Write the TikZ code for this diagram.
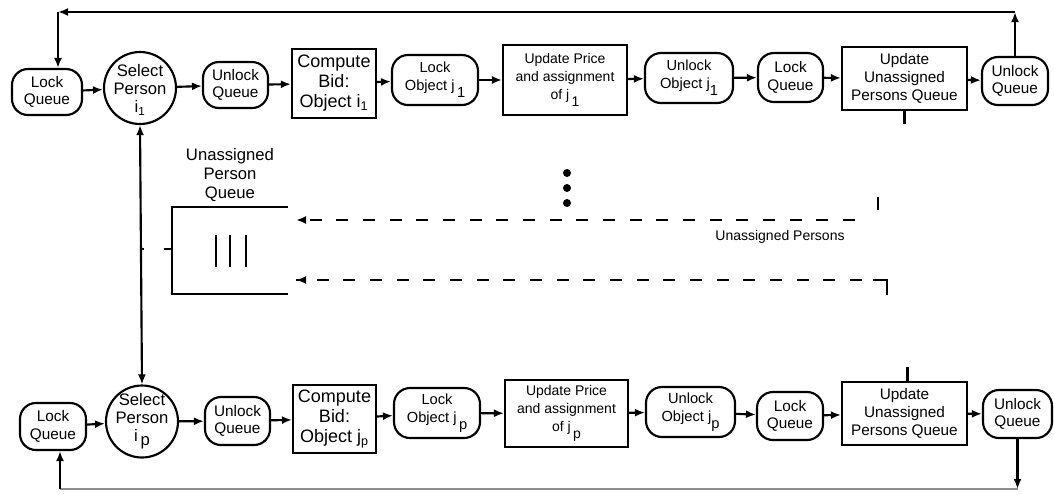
\documentclass[tikz,border=0pt]{standalone}
\usepackage{fontspec}
\setmainfont{Liberation Sans}
\usetikzlibrary{arrows.meta,calc}
\newcommand\lsub[1]{\raisebox{-0.9ex}{#1}}
\begin{document}
\begin{tikzpicture}[x=0.75pt,y=-0.75pt,
 every node/.style={align=center, inner sep=1pt},
 rr/.style={draw, rounded corners=12pt, line width=1.6pt},
 bx/.style={draw, line width=1.6pt},
 cir/.style={draw, circle, line width=1.6pt, inner sep=0pt, minimum size=54pt},
 ln/.style={line width=1.6pt},
 arr/.style={ln, -{Latex[length=7.5pt,width=6pt]}},
 dsh/.style={line width=1.8pt, dash pattern=on 9pt off 11pt},
 fq/.style={font=\fontsize{11.5}{13}\selectfont},
 fs/.style={font=\fontsize{12.5}{13.5}\selectfont},
 fc/.style={font=\fontsize{13.5}{15}\selectfont},
 fm/.style={font=\fontsize{10.5}{13.5}\selectfont},
 fu/.style={font=\fontsize{11.5}{13.5}\selectfont},
 fo/.style={font=\fontsize{11}{13.5}\selectfont},
]
\path[use as bounding box] (0,0) rectangle (1054,494);

% ---------- top row ----------
\node[rr,fq,minimum width=52.5pt,minimum height=34.5pt] (lq1) at (47,92) {Lock\\Queue};
\node[cir] (sp1) at (140,88) {};
\node[fs] (sp1t) at (140,90) {Select\\Person\\i\textsubscript{1}};
\node[rr,fq,minimum width=48.75pt,minimum height=34.5pt] (uq1) at (235.5,85) {Unlock\\Queue};
\node[bx,fc,minimum width=63pt,minimum height=51.75pt] (cb1) at (334,83.5) {Compute\\Bid:\\Object i\textsubscript{1}};
\node[rr,fo,minimum width=64.5pt,minimum height=37.5pt] (lo1) at (435,80) {Lock\\Object j\,\lsub{1}};
\node[bx,fm,minimum width=93pt,minimum height=52.5pt] (up1) at (565,80) {Update Price\\and assignment\\of j\,\lsub{1}};
\node[rr,fo,minimum width=66pt,minimum height=37.5pt] (ulo1) at (689,78) {Unlock\\Object j\lsub{1}};
\node[rr,fq,minimum width=48.75pt,minimum height=36.75pt] (lq1b) at (790.5,77.5) {Lock\\Queue};
\node[bx,fu,minimum width=93.75pt,minimum height=47.25pt] (uu1) at (904.5,78.5) {Update\\Unassigned\\Persons Queue};
\node[rr,fq,minimum width=49.5pt,minimum height=36pt] (uqr1) at (1015,81) {Unlock\\Queue};

\draw[arr] (lq1) -- (sp1);
\draw[arr] (sp1) -- (uq1);
\draw[arr] (uq1) -- (cb1);
\draw[arr] (cb1) -- (lo1);
\draw[arr] (lo1) -- (up1);
\draw[arr] (up1) -- (ulo1);
\draw[arr] (ulo1) -- (lq1b);
\draw[arr] (lq1b) -- (uu1);
\draw[arr] (uu1) -- (uqr1);

\coordinate (ytop) at (0,12);
\coordinate (tl) at (58,12);
\draw[arr] (uqr1.north) -- (uqr1.north |- ytop);
\draw[arr] (uqr1.north |- ytop) -- (tl);
\draw[arr] (tl) -- (tl |- lq1.north);

% ---------- bottom row ----------
\node[rr,fq,minimum width=49.5pt,minimum height=35.25pt] (lqp) at (53,426.5) {Lock\\Queue};
\node[cir] (spp) at (142,421.5) {};
\node[fs] (sppt) at (142,421) {Select\\Person\\i\,\raisebox{-0.4ex}{p}};
\node[rr,fq,minimum width=48.75pt,minimum height=36pt] (uqp) at (237.5,421) {Unlock\\Queue};
\node[bx,fc,minimum width=62.25pt,minimum height=51pt] (cbp) at (334.5,419) {Compute\\Bid:\\Object j\textsubscript{p}};
\node[rr,fo,minimum width=64.5pt,minimum height=37.5pt] (lop) at (437,413) {Lock\\Object j\,\lsub{p}};
\node[bx,fm,minimum width=92.25pt,minimum height=50.25pt] (upp) at (566.5,413.5) {Update Price\\and assignment\\of j\,\lsub{p}};
\node[rr,fo,minimum width=66.75pt,minimum height=37.5pt] (ulop) at (690.5,412) {Unlock\\Object j\lsub{p}};
\node[rr,fq,minimum width=49.5pt,minimum height=36pt] (lqpb) at (790,416) {Lock\\Queue};
\node[bx,fu,minimum width=93.75pt,minimum height=47.25pt] (uup) at (904.5,413.5) {Update\\Unassigned\\Persons Queue};
\node[rr,fq,minimum width=51.75pt,minimum height=36pt] (uqrp) at (1017.5,414) {Unlock\\Queue};

\draw[arr] (lqp) -- (spp);
\draw[arr] (spp) -- (uqp);
\draw[arr] (uqp) -- (cbp);
\draw[arr] (cbp) -- (lop);
\draw[arr] (lop) -- (upp);
\draw[arr] (upp) -- (ulop);
\draw[arr] (ulop) -- (lqpb);
\draw[arr] (lqpb) -- (uup);
\draw[arr] (uup) -- (uqrp);

\coordinate (yb) at (0,489);
\coordinate (bl) at (60,489);
\draw[arr] (uqrp.south) -- (uqrp.south |- yb);
\draw[line width=1pt, black!45] (uqrp.south |- yb) -- (bl);
\draw[arr] (bl) -- (bl |- lqp.south);

% ---------- vertical link ----------
\draw[ln, {Latex[length=7.5pt,width=6pt]}-{Latex[length=7.5pt,width=6pt]}] (sp1.south) -- (spp.north);

% ---------- unassigned person queue ----------
\coordinate (qtr) at (288,207);
\coordinate (qtl) at (172,207);
\coordinate (qbl) at (172,294);
\coordinate (qbr) at (288,294);
\draw[ln] (qtr) -- (qtl) -- (qbl) -- (qbr);
\draw[line width=1.8pt] (216,235) -- (216,267) (230,235) -- (230,267) (246,235) -- (246,267);
\node[font=\fontsize{12.5}{14}\selectfont] (qlab) at (230,175) {Unassigned\\Person\\Queue};
\coordinate (vq) at (141,249);
\draw[line width=1.6pt, dash pattern=on 2pt off 15pt on 6pt] (vq) -- (qtl |- vq);

% dots
\fill (567,173) circle (3pt);
\fill (567,188) circle (3pt);
\fill (567,203) circle (3pt);

% ---------- dashed returns ----------
\coordinate (d1s) at (855,220);
\coordinate (d1e) at (296,220);
\draw[dsh] (d1s) -- (d1e);
\draw[ln, -{Latex[length=7.5pt,width=6pt]}] ($(d1e)+(8,0)$) -- (d1e);
\draw[ln] (878,197) -- (878,210);
\draw[ln] (uu1.south) -- ++(0,13);

\coordinate (c2) at (887,280);
\coordinate (d2e) at (296,280);
\draw[ln] (887,295) -- (c2) -- (873,280);
\draw[dsh] (862,280) -- (d2e);
\draw[ln, -{Latex[length=7.5pt,width=6pt]}] ($(d2e)+(8,0)$) -- (d2e);
\draw[ln] (uup.north) ++(3,0) -- ++(0,-14);

\node[font=\fontsize{10.5}{12}\selectfont] (uplab) at (780,237) {Unassigned Persons};
\end{tikzpicture}
\end{document}
